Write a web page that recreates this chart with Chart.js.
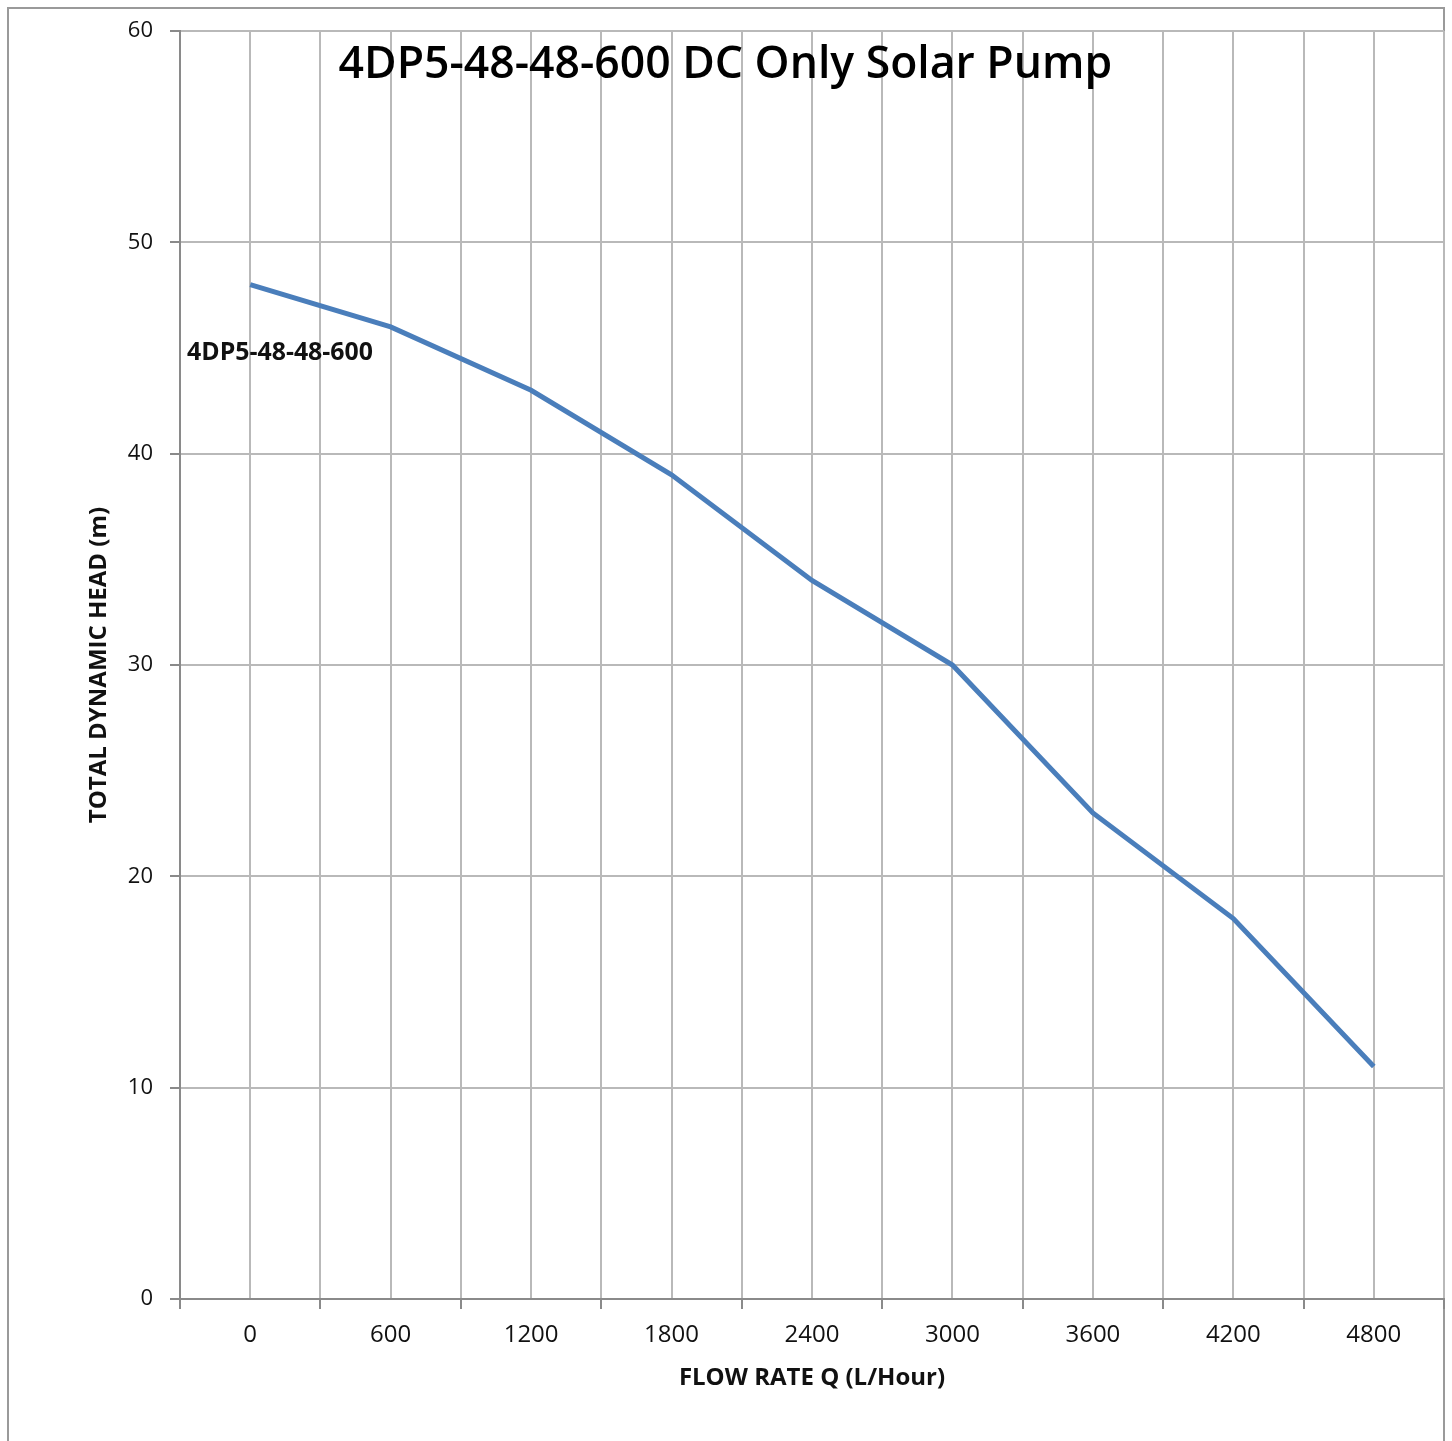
<!DOCTYPE html>
<html>
<head>
<meta charset="utf-8">
<title>4DP5-48-48-600 DC Only Solar Pump</title>
<script src="https://cdn.jsdelivr.net/npm/chart.js@4.4.1/dist/chart.umd.min.js"></script>
<style>
  html, body { margin: 0; padding: 0; background: #fff; }
  canvas { display: block; }
</style>
</head>
<body>
<canvas id="PumpChart" width="1452" height="1441"></canvas>
<script>
// pump curve
const flowRates = [0, 600, 1200, 1800, 2400, 3000, 3600, 4200, 4800];
const heads = [48, 46, 43, 39, 34, 30, 23, 18, 11];
const headTicks = [0, 10, 20, 30, 40, 50, 60];
const chartTitle = "4DP5-48-48-600 DC Only Solar Pump";
const seriesName = "4DP5-48-48-600";
const xTitle = "FLOW RATE Q (L/Hour)";
const yTitle = "TOTAL DYNAMIC HEAD (m)";

const FONT = "'Open Sans', Lato, sans-serif";
const gridGray = "#b9b9b9";
const axisGray = "#8a8a8a";

// outer frame, chart title and series label
const extras = {
  id: "extras",
  beforeDraw(chart) {
    const { ctx } = chart;
    ctx.save();
    ctx.fillStyle = "#fff";
    ctx.fillRect(0, 0, chart.width, chart.height);
    ctx.strokeStyle = "#9a9a9a";
    ctx.lineWidth = 2;
    ctx.strokeRect(8, 8, chart.width - 16, chart.height + 20);
    ctx.restore();
  },
  afterDraw(chart) {
    const { ctx } = chart;
    const xs = chart.scales.x;
    const ys = chart.scales.y;
    ctx.save();
    // title sits inside the plot, like the original
    let size = 40;
    ctx.font = `600 ${size}px ${FONT}`;
    size = size * 774 / ctx.measureText(chartTitle).width;
    ctx.font = `600 ${size}px ${FONT}`;
    ctx.fillStyle = "#000";
    ctx.textAlign = "center";
    ctx.textBaseline = "middle";
    ctx.fillText(chartTitle, xs.getPixelForValue(2030), ys.getPixelForValue(58.4));

    // series label next to the curve
    ctx.font = `bold 19px ${FONT}`;
    ctx.textAlign = "left";
    let w = ctx.measureText(seriesName).width;
    ctx.font = `bold ${19 * 186 / w}px ${FONT}`;
    ctx.fillStyle = "#111";
    ctx.fillText(seriesName, xs.getPixelForValue(-270), ys.getPixelForValue(44.75));
    ctx.restore();
  },
};

const points = flowRates.map((q, i) => ({ x: q, y: heads[i] }));

const ctx = document.getElementById("PumpChart").getContext("2d");
new Chart(ctx, {
  type: "line",
  data: {
    datasets: [
      {
        label: seriesName,
        data: points,
        borderColor: "#4a7ebb",
        borderWidth: 5,
        pointRadius: 0,
        tension: 0,
        fill: false,
      },
    ],
  },
  options: {
    responsive: false,
    animation: false,
    devicePixelRatio: 1,
    layout: { padding: { left: 0, top: 31, right: 8, bottom: 0 } },
    plugins: {
      legend: { display: false },
      tooltip: { enabled: false },
    },
    scales: {
      x: {
        type: "linear",
        min: -300,
        max: 5100,
        afterFit: (scale) => {
          scale.height = 142;
          scale.paddingLeft = 0;
          scale.paddingRight = 0;
        },
        afterBuildTicks: (scale) => {
          const t = [];
          for (let v = -300; v <= 5100; v += 300) t.push({ value: v });
          scale.ticks = t;
        },
        ticks: {
          autoSkip: false,
          maxRotation: 0,
          padding: 12,
          color: "#111",
          font: { family: FONT, size: 24 },
          callback: (v) => (v >= 0 && v <= 4800 && v % 600 === 0 ? String(v) : ""),
        },
        grid: {
          color: gridGray,
          lineWidth: 2,
          tickLength: 10,
          tickColor: (c) => (c.tick && c.tick.value % 600 !== 0 ? axisGray : "rgba(0,0,0,0)"),
        },
        border: { color: axisGray, width: 2 },
        title: {
          display: true,
          text: xTitle,
          color: "#111",
          font: { family: FONT, size: 24, weight: "bold" },
          padding: { top: 0, bottom: 48 },
        },
      },
      y: {
        min: 0,
        max: 60,
        afterFit: (scale) => { scale.width = 180; },
        afterBuildTicks: (scale) => {
          scale.ticks = headTicks.map((v) => ({ value: v }));
        },
        ticks: {
          padding: 17,
          color: "#111",
          font: { family: FONT, size: 22 },
        },
        grid: {
          color: gridGray,
          lineWidth: 2,
          tickLength: 10,
          tickColor: axisGray,
        },
        border: { color: axisGray, width: 2 },
        title: {
          display: true,
          text: yTitle,
          color: "#111",
          font: { family: FONT, size: 24, weight: "bold" },
          padding: { top: 85, bottom: 0 },
        },
      },
    },
  },
  plugins: [extras],
});
</script>
</body>
</html>
